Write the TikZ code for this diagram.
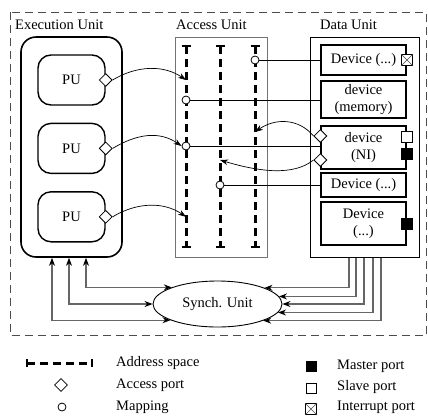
\documentclass[tikz,border=0pt]{standalone}
\usepackage{fontspec}
\setmainfont{Liberation Serif}
\usetikzlibrary{arrows,arrows.meta,shapes,positioning}
\tikzstyle{lbl}=[anchor=west,inner sep=0]
\tikzstyle{eunit}=[draw,line width=1.6pt,rounded corners=15pt,minimum width=101pt,minimum height=220pt]
\tikzstyle{pu}=[draw,line width=1.4pt,rounded corners=13pt,minimum width=67pt,minimum height=50pt]
\tikzstyle{ubox}=[draw,line width=1pt,minimum height=220pt,inner sep=0]
\tikzstyle{dev}=[draw,line width=1.2pt,minimum width=85pt,align=center,inner sep=0]
\tikzstyle{aport}=[draw,fill=white,diamond,minimum size=13pt,inner sep=0,line width=0.8pt]
\tikzstyle{mport}=[draw,fill=black,minimum size=11pt,inner sep=0]
\tikzstyle{sport}=[draw,fill=white,minimum size=11pt,inner sep=0,line width=0.8pt]
\tikzstyle{iport}=[draw,fill=white,minimum size=11pt,inner sep=0,line width=0.8pt]
\tikzstyle{mapc}=[draw,fill=white,circle,minimum size=8pt,inner sep=0,line width=0.8pt]
\tikzstyle{aspace}=[line width=3pt,dash pattern=on 8pt off 5pt]
\tikzstyle{acc}=[->,>={Stealth[length=8pt,width=5.5pt]},line width=0.7pt]
\tikzstyle{sync}=[draw=black!60,line width=1.1pt,>={Stealth[black,length=8pt,width=6pt]}]
\newcommand{\intport}[2]{\node[iport] (#1) at (#2) {};\draw[black!70] (#1.north west) -- (#1.south east) (#1.north east) -- (#1.south west);}
\newcommand{\aline}[2]{\coordinate (#1) at (#2,46);\draw[aspace] (#1) -- (#2,247);\draw[line width=2.5pt] (#2-4.5,46) -- (#2+4.5,46) (#2-4.5,247) -- (#2+4.5,247);}

\begin{document}
\begin{tikzpicture}[x=1pt,y=-1pt,font=\fontsize{14.5}{17.5}\selectfont]
  \useasboundingbox (0,0) rectangle (428,416);
  \draw[black!70,line width=0.8pt,dash pattern=on 8pt off 5pt] (10,12) rectangle (426.5,335);

  % execution unit
  \node[lbl] (eul) at (15,25) {Execution Unit};
  \node[eunit] (eu) at (71.5,147) {};
  \node[pu] (pu1) at (71.5,80) {PU};
  \node[pu,below=17pt of pu1] (pu2) {PU};
  \node[pu,below=17pt of pu2] (pu3) {PU};
  \node[aport] (pu1p) at (pu1.east) {};
  \node[aport] (pu2p) at (pu2.east) {};
  \node[aport] (pu3p) at (pu3.east) {};

  % access unit
  \node[lbl] (aul) at (176,25) {Access Unit};
  \node[ubox,draw=black!55,minimum width=92pt] (au) at (221,147) {};
  \aline{as1}{186}
  \aline{as2}{220}
  \aline{as3}{255}

  % data unit
  \node[lbl] (dul) at (320,25) {Data Unit};
  \node[ubox,minimum width=109pt] (du) at (364.5,147) {};
  \node[dev,minimum height=30pt] (d1) at (363.5,60) {Device (...)};
  \node[dev,minimum height=37pt] (d2) at (363.5,99.5) {device\\(memory)};
  \node[dev,minimum height=43pt] (d3) at (363.5,147.5) {device\\(NI)};
  \node[dev,minimum height=24pt] (d4) at (363.5,185) {Device (...)};
  \node[dev,minimum height=43pt] (d5) at (363.5,223.5) {Device\\(...)};
  \intport{d1i}{407,60}
  \node[sport] (d3s) at (407,136.5) {};
  \node[mport] (d3m) at (407,154) {};
  \node[mport] (d5m) at (407,224) {};
  \node[aport] (d3p1) at (d3.west |- 0,136) {};
  \node[aport] (d3p2) at (d3.west |- 0,160) {};

  % mappings
  \node[mapc] (m1) at (255,60) {};
  \node[mapc] (m2) at (186,100) {};
  \node[mapc] (m3) at (186,146) {};
  \node[mapc] (m4) at (220,185) {};
  \draw[line width=0.8pt] (m1) -- (m1 -| d1.west) (m2) -- (m2 -| d2.west)
    (m3) -- (m3 -| d3.west) (m4) -- (m4 -| d4.west);

  % accesses
  \draw[acc] (pu1p.east) .. controls +(25,-15) and +(-22,-15) .. (as1 |- pu1p);
  \draw[acc] (pu2p.east) .. controls +(25,-15) and +(-22,-15) .. (m3.west);
  \draw[acc] (pu3p.east) .. controls +(25,-15) and +(-22,-15) .. (as1 |- pu3p);
  \draw[acc] (d3p1.west) .. controls +(-15,-18) and +(20,-14) .. (as3 |- 0,132);
  \draw[acc] (d3p2.west) .. controls +(-20,16) and +(40,12) .. (as2 |- d3p2);

  % synchronisation
  \node[draw,ellipse,line width=0.9pt,minimum width=129pt,minimum height=46pt,inner sep=0] (sy) at (217.5,304) {Synch. Unit};
  \foreach \x/\a in {86/160.94,69/180,52/199.06}
    \draw[sync,<->] (eu.south -| \x,0) |- (sy.\a);
  \foreach \x/\a in {349/19.06,356/7.53,364/0,373/352.47,381/340.94}
    \draw[sync,->] (du.south -| \x,0) |- (sy.\a);

  % legend
  \draw[aspace] (27,363) -- (92,363);
  \draw[line width=1.5pt] (27,359) -- (27,367) (92,359) -- (92,367);
  \node[lbl] (lg1) at (116,363) {Address space};
  \node[aport] (lga) at (61,385) {};
  \node[lbl] (lg2) at (116,385) {Access port};
  \node[mapc] (lgm) at (62,407) {};
  \node[lbl] (lg3) at (116,407) {Mapping};
  \node[mport,minimum size=10pt] (lgms) at (311,366) {};
  \node[lbl] (lg4) at (337,366) {Master port};
  \node[sport,minimum size=10pt] (lgss) at (311,388) {};
  \node[lbl] (lg5) at (337,387) {Slave port};
  \intport{lgis}{311,409}
  \node[lbl] (lg6) at (337,407) {Interrupt port};
\end{tikzpicture}
\end{document}
